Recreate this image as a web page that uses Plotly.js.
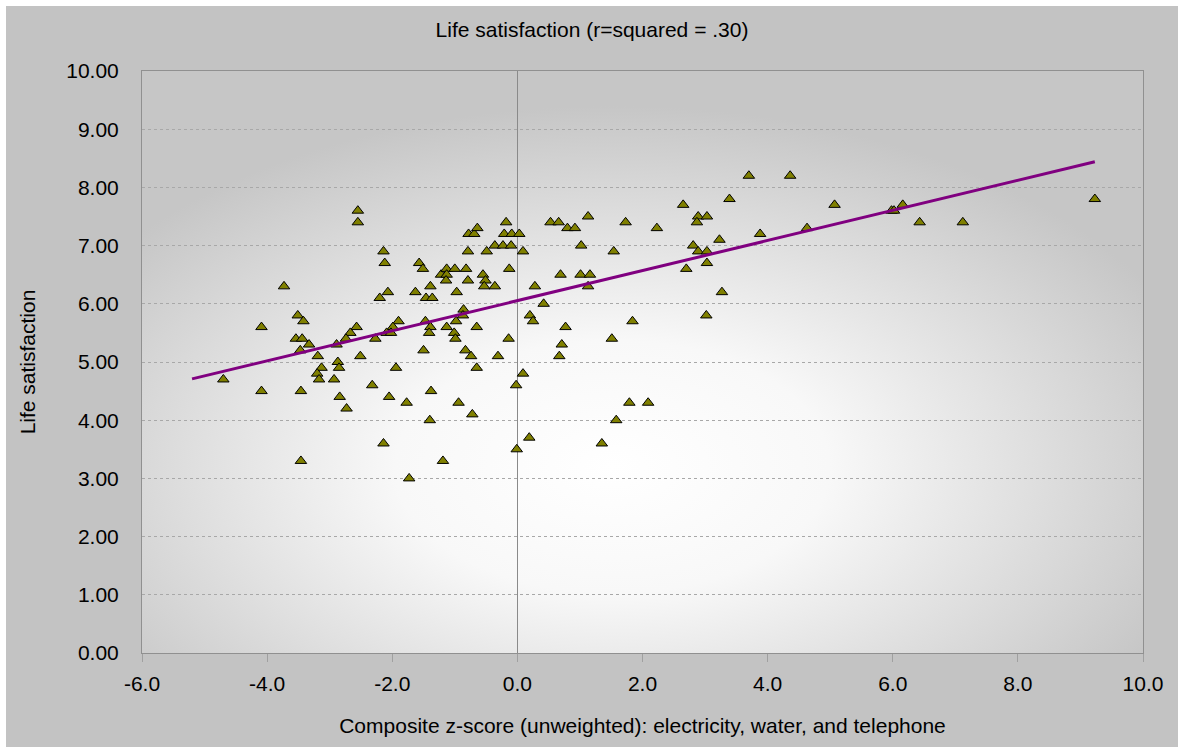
<!DOCTYPE html>
<html><head><meta charset="utf-8">
<script src="https://cdn.plot.ly/plotly-3.0.1.min.js"></script>
<style>
html,body{margin:0;padding:0;background:#ffffff;}
#chart{position:absolute;left:6px;top:6px;width:1172px;height:741px;}
</style></head>
<body><div id="chart"></div>
<script>
// Composite z-score (x) and life satisfaction (y)
const zScore = [
 -2.55,-2.55,-2.14,-3.73,-2.20,-3.51,-3.42,-4.09,-2.57,-3.54,-3.44,-2.67,-2.74,-3.33,-3.47,-2.89,-2.27,-3.19,-2.51,-2.87,-3.13,-2.85,-3.20,-3.17,-2.93,-4.70,-2.32,-4.09,-3.46,-2.84,-2.73,-3.46,-2.14,
 -2.12,-1.57,-1.51,-2.07,-1.63,-1.46,-1.36,-1.39,-1.22,-1.13,-1.13,-1.14,-1.00,-0.97,-0.82,-0.79,-0.79,-0.78,-0.69,-0.64,-0.55,-0.51,-0.53,-0.49,-0.36,-0.36,-0.23,-0.21,-0.18,-0.10,-0.09,0.03,0.09,-0.13,0.53,0.66,0.80,0.69,0.28,0.42,0.20,0.25,0.77,0.71,0.67,-0.86,-0.87,-0.98,-1.13,-1.47,-1.39,-1.41,-1.01,-0.99,-0.65,-0.14,-1.90,-1.99,-2.09,-2.02,-1.50,-0.83,-0.74,-0.31,-0.65,-1.94,-2.05,-1.77,-1.38,-0.94,-0.72,-1.40,0.09,-0.02,-1.19,-1.73,0.19,-0.01,
 3.70,0.92,1.13,1.73,2.23,2.65,2.89,2.87,3.03,3.39,1.02,1.54,3.23,2.81,2.89,3.03,3.03,2.70,3.88,1.01,1.16,1.13,3.27,3.02,1.84,1.51,1.79,2.09,1.58,1.35,
 4.36,5.07,5.98,6.02,6.16,6.43,4.63,7.12,9.23
];
const lifeSat = [
 7.6,7.4,6.9,6.3,6.1,5.8,5.7,5.6,5.6,5.4,5.4,5.5,5.4,5.3,5.2,5.3,5.4,5.1,5.1,5.0,4.9,4.9,4.8,4.7,4.7,4.7,4.6,4.5,4.5,4.4,4.2,3.3,3.6,
 6.7,6.7,6.6,6.2,6.2,6.1,6.1,6.3,6.5,6.6,6.5,6.4,6.6,6.2,6.6,6.4,6.9,7.2,7.2,7.3,6.5,6.4,6.3,6.9,7.0,6.3,7.0,7.2,7.4,7.0,7.2,7.2,6.9,6.6,7.4,7.4,7.3,6.5,6.3,6.0,5.8,5.7,5.6,5.3,5.1,5.9,5.8,5.7,5.6,5.7,5.6,5.5,5.5,5.4,5.6,5.4,5.7,5.6,5.5,5.5,5.2,5.2,5.1,5.1,4.9,4.9,4.4,4.3,4.5,4.3,4.1,4.0,4.8,4.6,3.3,3.0,3.7,3.5,
 8.2,7.3,7.5,7.4,7.3,7.7,7.5,7.4,7.5,7.8,7.0,6.9,7.1,7.0,6.9,6.9,6.7,6.6,7.2,6.5,6.5,6.3,6.2,5.8,5.7,5.4,4.3,4.3,4.0,3.6,
 8.2,7.7,7.6,7.6,7.7,7.4,7.3,7.4,7.8
];
// Linear trend line endpoints
const trendX = [-5.2, 9.23];
const trendY = [4.71, 8.44];

const xTickVals = [-6,-4,-2,0,2,4,6,8,10];
const xTickText = ['-6.0','-4.0','-2.0','0.0','2.0','4.0','6.0','8.0','10.0'];
const yTickVals = [0,1,2,3,4,5,6,7,8,9,10];
const yTickText = ['0.00','1.00','2.00','3.00','4.00','5.00','6.00','7.00','8.00','9.00','10.00'];

const bgSvg = '<svg xmlns="http://www.w3.org/2000/svg" width="1000" height="576" viewBox="0 0 1000 576" preserveAspectRatio="none">' +
 '<defs><radialGradient id="g" cx="0.47" cy="0.68" r="0.62" gradientUnits="objectBoundingBox">' +
 '<stop offset="0" stop-color="#ffffff"/><stop offset="0.35" stop-color="#f8f8f8"/><stop offset="1" stop-color="#c6c6c6"/></radialGradient></defs>' +
 '<rect x="0" y="0" width="1000" height="576" fill="url(#g)"/></svg>';
const bgUri = 'data:image/svg+xml;base64,' + btoa(bgSvg);

const traces = [
 {x: zScore, y: lifeSat, type:'scatter', mode:'markers', name:'Life satisfaction',
  marker:{symbol:'triangle-up', size:10, color:'#808000', line:{color:'#000000', width:1}}},
 {x: trendX, y: trendY, type:'scatter', mode:'lines', name:'Linear',
  line:{color:'#800080', width:3}}
];

const FONT = 'Liberation Sans, Arial, sans-serif';
const layout = {
 width:1172, height:741,
 margin:{l:136, r:35, t:65, b:94},
 paper_bgcolor:'#c3c3c3',
 plot_bgcolor:'rgba(0,0,0,0)',
 showlegend:false,
 font:{family:FONT, color:'#000000'},
 title:{text:'Life satisfaction (r=squared = .30)', font:{family:FONT, size:21, color:'#000'}, x:0.5, xanchor:'center', y:1-24/741, yanchor:'middle'},
 images:[{source:bgUri, xref:'paper', yref:'paper', x:0, y:1, sizex:1, sizey:1, sizing:'stretch', layer:'below', xanchor:'left', yanchor:'top'}],
 xaxis:{range:[-6,10], tickvals:xTickVals, ticktext:xTickText, showgrid:false,
  zeroline:true, zerolinecolor:'#8a8a8a', zerolinewidth:1.5,
  showline:true, linecolor:'#909090', linewidth:1, mirror:true,
  ticks:'outside', ticklen:8, tickcolor:'#a0a0a0', tickwidth:1,
  tickfont:{family:FONT, size:21}, ticklabelstandoff:4,
  title:{text:'Composite z-score (unweighted): electricity, water, and telephone', font:{family:FONT, size:21}, standoff:24}},
 yaxis:{range:[0,10], tickvals:yTickVals, ticktext:yTickText,
  showgrid:true, gridcolor:'#a8a8a8', griddash:'dot', gridwidth:1,
  zeroline:false, showline:true, linecolor:'#909090', linewidth:1, mirror:true,
  ticks:'', tickfont:{family:FONT, size:21}, ticklabelstandoff:18,
  title:{text:'Life satisfaction', font:{family:FONT, size:21}, standoff:24}}
};

Plotly.newPlot('chart', traces, layout, {displayModeBar:false, staticPlot:true});
</script></body></html>
